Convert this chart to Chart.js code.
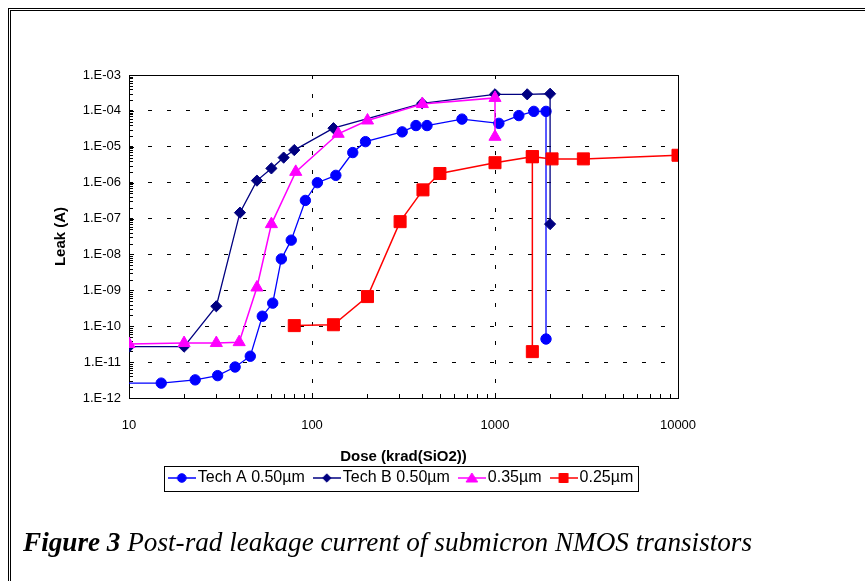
<!DOCTYPE html>
<html><head><meta charset="utf-8">
<script src="https://cdn.jsdelivr.net/npm/chart.js@4"></script>
<style>
html,body{margin:0;padding:0;background:#fff;width:865px;height:581px;overflow:hidden;}
#frame{position:absolute;left:8px;top:8px;width:900px;height:620px;border-left:3px double #000;border-top:3px double #000;}
#c{position:absolute;left:0;top:0;}
#cap{position:absolute;left:23px;top:527px;font-family:'Liberation Serif','Times New Roman',serif;font-style:italic;font-size:27.2px;line-height:30px;white-space:nowrap;color:#000;}
#cap b{font-weight:bold;}
</style></head>
<body>
<div id="frame"></div>
<canvas id="c" width="865" height="581"></canvas>
<div id="cap"><b>Figure 3</b> Post-rad leakage current of submicron NMOS transistors</div>
<script>
// ---- data (dose in krad(SiO2), leakage in A) ----
const techA_x = [5, 15, 23, 30.5, 38, 46, 53.5, 61, 68, 77, 92, 107, 135, 167, 196, 311, 370, 425, 660, 1050, 1350, 1630, 1900, 1900];
const techA_y = [2.6e-12, 2.6e-12, 3.2e-12, 4.2e-12, 7.3e-12, 1.46e-11, 1.9e-10, 4.4e-10, 7.5e-9, 2.5e-8, 3.2e-7, 1.0e-6, 1.6e-6, 6.9e-6, 1.39e-5, 2.6e-5, 3.9e-5, 3.9e-5, 5.9e-5, 4.5e-5, 7.4e-5, 9.7e-5, 9.7e-5, 4.4e-11];
const techB_x = [10, 20, 30, 40.4, 50, 60, 70, 80, 131, 400, 1000, 1500, 2000, 2000];
const techB_y = [2.7e-11, 2.7e-11, 3.6e-10, 1.46e-7, 1.14e-6, 2.5e-6, 5.0e-6, 8.1e-6, 3.3e-5, 1.63e-4, 2.9e-4, 2.9e-4, 3.0e-4, 7e-8];
const n035_x = [10, 20, 30, 40, 50, 60, 81.5, 139, 201, 401, 1000, 1000];
const n035_y = [3.2e-11, 3.4e-11, 3.4e-11, 3.6e-11, 1.2e-9, 7e-8, 2.0e-6, 2.3e-5, 5.4e-5, 1.55e-4, 2.3e-4, 1.9e-5];
const n025_x = [80, 131, 201, 303, 404, 500, 1000, 1600, 1600, 1600, 2050, 3040, 10000];
const n025_y = [1.04e-10, 1.1e-10, 6.7e-10, 8.2e-8, 6.3e-7, 1.8e-6, 3.6e-6, 5.3e-6, 1.96e-11, 5.3e-6, 4.6e-6, 4.6e-6, 5.8e-6];

const seriesNames = ['Tech A 0.50µm', 'Tech B 0.50µm', '0.35µm', '0.25µm'];
const seriesColors = ['#0000FF', '#000080', '#FF00FF', '#FF0000'];

const yTickValues = [1e-12, 1e-11, 1e-10, 1e-9, 1e-8, 1e-7, 1e-6, 1e-5, 1e-4, 1e-3];
const yTickLabels = ['1.E-12', '1.E-11', '1.E-10', '1.E-09', '1.E-08', '1.E-07', '1.E-06', '1.E-05', '1.E-04', '1.E-03'];
const xTickValues = [10, 100, 1000, 10000];
const xTickLabels = ['10', '100', '1000', '10000'];

const FONT = "'Liberation Sans', Arial, sans-serif";

function pts(xs, ys) { return xs.map((x, i) => ({x: x, y: ys[i]})); }
function logTicks(majors) {
  const t = [];
  for (let i = 0; i < majors.length; i++) {
    t.push({value: majors[i], major: true, idx: i});
    if (i < majors.length - 1) for (let k = 2; k <= 9; k++) t.push({value: majors[i] * k, major: false});
  }
  return t;
}
function labelFor(labels) {
  return function (v, i, ticks) { const t = ticks[i]; return (t && t.major) ? labels[t.idx] : ''; };
}
function gridColor(majors) {
  return function (ctx) {
    const t = ctx.tick;
    if (!t || !t.major) return 'rgba(0,0,0,0)';
    if (t.idx === 0 || t.idx === majors.length - 1) return 'rgba(0,0,0,0)';
    return '#000';
  };
}

// legend symbols: line with marker
function legendSymbol(color, style) {
  const cv = document.createElement('canvas');
  cv.width = 28; cv.height = 16;
  const g = cv.getContext('2d');
  g.strokeStyle = color; g.fillStyle = color; g.lineWidth = 1.5;
  g.beginPath(); g.moveTo(0, 8); g.lineTo(28, 8); g.stroke();
  g.lineWidth = 1;
  g.beginPath();
  const cx = 14, cy = 8;
  if (style === 'circle') g.arc(cx, cy, 4.3, 0, Math.PI * 2);
  else if (style === 'rectRot') { g.moveTo(cx - 4.2, cy); g.lineTo(cx, cy - 4.2); g.lineTo(cx + 4.2, cy); g.lineTo(cx, cy + 4.2); g.closePath(); }
  else if (style === 'triangle') { g.moveTo(cx, cy - 5); g.lineTo(cx + 5.8, cy + 4); g.lineTo(cx - 5.8, cy + 4); g.closePath(); }
  else { g.rect(cx - 4.5, cy - 4.5, 9, 9); }
  g.fill(); g.stroke();
  return cv;
}
const styles = ['circle', 'rectRot', 'triangle', 'rect'];
const symbols = styles.map((s, i) => legendSymbol(seriesColors[i], s));

const frameTicks = {
  id: 'frameTicks',
  beforeDatasetsDraw(chart) {
    const ctx = chart.ctx, a = chart.chartArea;
    const xs = chart.scales.x, ys = chart.scales.y;
    ctx.save();
    ctx.strokeStyle = '#000'; ctx.lineWidth = 1;
    ctx.beginPath();
    ys.ticks.forEach(t => {
      const y = Math.round(ys.getPixelForValue(t.value)) + 0.5;
      const len = t.major ? 5 : 4;
      ctx.moveTo(a.left, y); ctx.lineTo(a.left + len, y);
    });
    xs.ticks.forEach(t => {
      const x = Math.round(xs.getPixelForValue(t.value)) + 0.5;
      const len = t.major ? 5 : 4;
      ctx.moveTo(x, a.bottom); ctx.lineTo(x, a.bottom - len);
    });
    ctx.stroke();
    ctx.strokeRect(Math.round(a.left) + 0.5, Math.round(a.top) + 0.5, Math.round(a.right - a.left), Math.round(a.bottom - a.top));
    ctx.restore();
  },
  afterDraw(chart) {
    const lg = chart.legend;
    if (!lg || !lg.legendHitBoxes || !lg.legendHitBoxes.length) return;
    const hb = lg.legendHitBoxes, last = hb[hb.length - 1];
    const l = hb[0].left - 10, r = last.left + last.width + 5;
    const t = hb[0].top - 4, b = hb[0].top + hb[0].height + 5;
    const ctx = chart.ctx;
    ctx.save(); ctx.strokeStyle = '#000'; ctx.lineWidth = 1;
    ctx.strokeRect(Math.round(l) + 0.5, Math.round(t) + 0.5, Math.round(r - l), Math.round(b - t));
    ctx.restore();
  }
};

const datasets = [
  {label: seriesNames[0], data: pts(techA_x, techA_y), borderColor: seriesColors[0], backgroundColor: seriesColors[0],
   pointStyle: 'circle', pointRadius: techA_x.map((x, i) => i === 0 ? 0 : 5.2), borderWidth: 1.3, order: 3},
  {label: seriesNames[1], data: pts(techB_x, techB_y), borderColor: seriesColors[1], backgroundColor: seriesColors[1],
   pointStyle: 'rectRot', pointRadius: 5.6, borderWidth: 1.3, order: 2},
  {label: seriesNames[2], data: pts(n035_x, n035_y), borderColor: seriesColors[2], backgroundColor: seriesColors[2],
   pointStyle: 'triangle', pointRadius: 7, borderWidth: 1.5, order: 1},
  {label: seriesNames[3], data: pts(n025_x, n025_y), borderColor: seriesColors[3], backgroundColor: seriesColors[3],
   pointStyle: 'rect', pointRadius: 8.5, borderWidth: 1.5, order: 0}
];
datasets.forEach(d => { d.showLine = true; d.pointBorderWidth = 1; d.pointBorderColor = d.borderColor; d.pointBackgroundColor = d.borderColor; d.tension = 0; });

new Chart(document.getElementById('c'), {
  type: 'scatter',
  data: {datasets: datasets},
  plugins: [frameTicks],
  options: {
    responsive: false, animation: false, devicePixelRatio: 1, events: [],
    layout: {padding: {left: 50, top: 75, right: 187, bottom: 85}},
    scales: {
      x: {
        type: 'logarithmic', min: 10, max: 10000, position: 'bottom',
        afterBuildTicks: s => { s.ticks = logTicks(xTickValues); },
        afterFit: s => { s.height = 58; },
        ticks: {autoSkip: false, maxRotation: 0, padding: 20, color: '#000', font: {family: FONT, size: 13}, callback: labelFor(xTickLabels)},
        grid: {drawTicks: false, color: gridColor(xTickValues), lineWidth: 1, borderDash: [4, 15]},
        border: {display: false, dash: [4, 15]},
        title: {display: true, text: 'Dose (krad(SiO2))', color: '#000', font: {family: FONT, size: 15, weight: 'bold'}, padding: {top: 0, bottom: -10}}
      },
      y: {
        type: 'logarithmic', min: 1e-12, max: 1e-3, position: 'left',
        afterBuildTicks: s => { s.ticks = logTicks(yTickValues); },
        afterFit: s => { s.width = 79; },
        ticks: {autoSkip: false, padding: 8, color: '#000', font: {family: FONT, size: 13}, callback: labelFor(yTickLabels)},
        grid: {drawTicks: false, color: gridColor(yTickValues), lineWidth: 1, borderDash: [4, 15]},
        border: {display: false, dash: [4, 15]},
        title: {display: true, text: 'Leak (A)', color: '#000', font: {family: FONT, size: 15, weight: 'bold'}, padding: {top: 2, bottom: 0}}
      }
    },
    plugins: {
      tooltip: {enabled: false},
      legend: {
        display: true, position: 'bottom', fullSize: false,
        labels: {
          usePointStyle: true, pointStyleWidth: 16, padding: 14, color: '#000',
          font: {family: FONT, size: 16},
          generateLabels: chart => chart.data.datasets.map((d, i) => ({
            text: d.label, fillStyle: d.borderColor, strokeStyle: d.borderColor, lineWidth: 0,
            pointStyle: symbols[i], rotation: 0, datasetIndex: i, hidden: false, fontColor: '#000'
          }))
        }
      }
    }
  }
});
</script>
</body></html>
